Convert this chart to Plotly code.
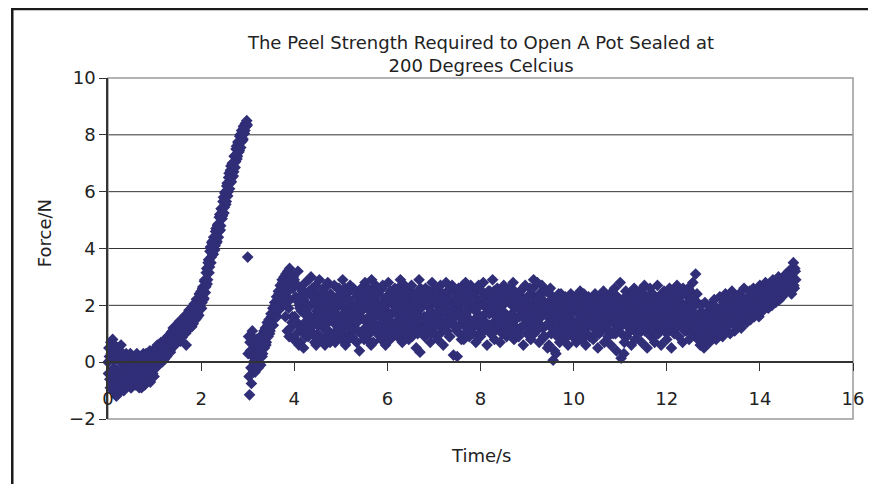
import plotly.graph_objects as go

# ---- data (read off the picture), logged every 0.01 s as two interleaved
# ---- channels: samples at even and at odd hundredths of a second ----
sample_interval_s = 0.01

even_initial = [  # 0.00 - 1.18 s
    0.0, 0.5, -0.6, 0.7, -0.3, 0.8, -1.0, 0.6, 0.1, -1.2,
    0.5, -0.4, 0.2, -0.9, 0.6, -0.7, 0.3, -1.0, 0.1, -0.5,
    0.2, -0.8, -0.1, -0.6, 0.3, -0.9, 0.0, -0.4, 0.2, -0.7,
    -0.2, 0.3, -0.8, 0.1, -0.5, 0.2, -0.9, -0.1, 0.3, -0.6,
    -0.2, 0.3, -0.5, 0.2, -0.3, 0.4, -0.1, 0.3, -0.4, 0.2,
    0.0, 0.5, 0.1, 0.6, -0.1, 0.4, 0.2, 0.7, 0.0, 0.5,
]
odd_initial = [  # 0.01 - 1.19 s
    -0.4, 0.2, -0.9, 0.3, -0.7, 0.1, -0.2, -0.8, 0.4, -0.5,
    -0.3, 0.1, -0.6, 0.0, -1.0, 0.2, -0.5, -0.2, -0.8, 0.3,
    -0.5, 0.1, -0.7, -0.3, -0.9, 0.2, -0.6, 0.1, -0.3, -0.8,
    0.2, -0.6, -0.3, -0.9, 0.0, -0.7, 0.1, -0.5, -0.2, -0.8,
    0.1, -0.6, 0.0, -0.4, 0.3, -0.7, 0.2, -0.2, 0.1, -0.5,
    0.3, -0.2, 0.4, 0.1, 0.5, 0.0, 0.3, 0.6, 0.1, 0.4,
]
even_rise = [  # 1.20 - 2.98 s
    0.6, 0.15, 0.6, 0.2, 0.9, 0.45, 0.75, 0.35, 1.05, 0.6,
    1.2, 0.82, 0.6, 1.18, 0.8, 1.35, 0.78, 1.21, 0.74, 1.42,
    1.05, 1.54, 1.08, 1.47, 0.6, 1.6, 1.14, 1.83, 1.32, 1.66,
    1.25, 1.95, 1.55, 1.95, 1.5, 2.21, 1.7, 2.05, 2.4, 1.85,
    2.5, 2.1, 2.65, 2.25, 2.9, 2.65, 3.3, 2.9, 3.6, 3.35,
    4.05, 3.7, 4.25, 3.8, 4.3, 4.1, 4.7, 4.25, 4.85, 4.6,
    5.2, 4.8, 5.4, 5.15, 5.8, 5.45, 6.0, 5.65, 6.3, 6.0,
    6.65, 6.3, 6.9, 6.5, 7.0, 6.7, 7.25, 7.05, 7.6, 7.25,
    7.7, 7.45, 8.0, 7.75, 8.05, 7.85, 8.25, 8.15, 8.4, 8.5,
]
odd_rise = [  # 1.21 - 2.99 s
    0.1, 0.7, 0.3, 0.85, 0.35, 0.9, 0.4, 1.0, 0.55, 1.1,
    0.68, 1.22, 1.05, 0.68, 1.27, 0.85, 1.43, 0.86, 1.34, 0.87,
    1.5, 0.99, 1.63, 1.02, 1.56, 1.15, 1.74, 1.28, 1.82, 1.26,
    1.9, 1.35, 2.05, 1.5, 2.1, 1.56, 2.2, 1.65, 1.95, 2.4,
    1.9, 2.6, 2.2, 2.85, 2.45, 3.15, 2.75, 3.5, 3.15, 3.9,
    3.5, 4.2, 3.8, 4.4, 3.95, 4.6, 4.2, 4.8, 4.4, 5.1,
    4.65, 5.4, 5.05, 5.65, 5.25, 5.95, 5.55, 6.2, 5.85, 6.5,
    6.1, 6.75, 6.35, 7.0, 6.55, 7.25, 6.85, 7.5, 7.15, 7.75,
    7.4, 7.95, 7.55, 8.15, 7.8, 8.3, 8.05, 8.4, 8.3, 8.35,
]
even_recovery = [  # 3.00 - 3.98 s
    3.7, 0.9, -1.15, 0.4, -0.75, 1.1, 0.0, 0.7, -0.35, 0.5,
    -0.1, 0.8, 0.2, 0.6, -0.1, 0.9, 0.3, 1.0, 0.5, 1.2,
    0.7, 1.4, 0.9, 1.5, 1.1, 1.7, 1.3, 1.9, 1.5, 2.1,
    1.7, 2.3, 1.9, 2.5, 2.0, 2.7, 2.2, 2.9, 2.4, 3.0,
    2.3, 3.1, 2.6, 3.2, 1.9, 3.3, 1.2, 2.8, 1.6, 3.0,
]
odd_recovery = [  # 3.01 - 3.99 s
    0.3, -0.5, 0.7, -0.2, 0.9, 0.2, -0.3, 0.6, 0.1, 0.8,
    0.3, -0.2, 0.4, 0.9, 0.5, 0.2, 0.7, 1.1, 0.8, 0.6,
    1.0, 1.3, 1.2, 1.0, 1.4, 1.6, 1.5, 1.3, 1.8, 2.0,
    1.9, 1.6, 2.2, 2.4, 2.3, 1.9, 2.6, 2.8, 2.1, 2.7,
    1.6, 2.9, 1.1, 2.5, 0.9, 2.2, 3.0, 1.4, 2.6, 0.8,
]
even_plateau = [  # 4.00 - 12.68 s
    2.9, 0.8, 2.2, 1.4, 3.2, 0.6, 1.9, 2.6, 1.1, 2.4,
    0.5, 1.7, 2.8, 1.2, 2.0, 0.9, 2.5, 1.5, 3.0, 1.0,
    2.3, 1.3, 0.7, 2.7, 1.8, 1.0, 2.1, 2.9, 1.4, 0.8,
    1.9, 2.6, 1.2, 0.6, 2.2, 1.6, 2.8, 1.1, 1.8, 2.4,
    0.9, 2.0, 1.4, 2.7, 0.7, 1.7, 2.3, 1.2, 2.6, 1.5,
    2.1, 0.8, 2.9, 1.3, 1.9, 0.6, 2.4, 1.6, 2.2, 1.0,
    2.7, 1.4, 0.9, 2.0, 1.2, 2.5, 1.7, 0.7, 2.3, 1.8,
    0.4, 1.6, 2.6, 1.1, 2.1, 0.8, 2.8, 1.5, 1.9, 1.2,
    2.4, 1.0, 1.8, 2.9, 1.3, 0.7, 2.2, 1.6, 2.6, 1.1,
    1.7, 2.5, 0.9, 2.0, 1.4, 2.7, 1.1, 1.9, 0.6, 2.3,
    1.5, 2.8, 1.2, 0.8, 2.1, 1.7, 2.4, 1.0, 2.6, 1.4,
    2.0, 0.9, 2.3, 1.6, 2.9, 1.2, 0.7, 2.2, 1.8, 2.5,
    1.1, 2.6, 1.5, 0.8, 2.0, 1.3, 2.7, 1.7, 1.0, 2.4,
    1.8, 0.5, 2.2, 1.4, 2.9, 0.35, 1.9, 2.5, 1.2, 2.1,
    0.9, 2.6, 1.6, 2.0, 1.1, 2.4, 0.7, 1.8, 2.8, 1.3,
    2.2, 1.0, 1.7, 2.5, 0.8, 2.0, 1.5, 2.7, 1.2, 1.9,
    0.6, 2.3, 1.4, 2.8, 1.1, 1.8, 2.5, 0.9, 2.1, 1.6,
    2.6, 0.25, 1.9, 1.3, 2.2, 0.2, 1.7, 2.4, 1.0, 2.0,
    1.5, 2.7, 0.8, 2.3, 2.8, 1.2, 1.8, 2.5, 0.9, 2.1,
    1.4, 2.6, 1.0, 1.9, 2.4, 0.7, 2.0, 1.3, 2.7, 1.6,
    0.9, 2.2, 1.5, 2.8, 1.1, 1.7, 2.4, 0.6, 2.0, 1.3,
    2.5, 1.0, 1.8, 2.9, 1.4, 0.8, 2.2, 1.6, 2.6, 1.2,
    1.9, 0.7, 2.4, 1.3, 2.0, 2.7, 1.1, 1.7, 0.9, 2.3,
    1.5, 2.6, 1.0, 2.1, 1.4, 2.8, 0.8, 1.9, 2.3, 1.2,
    2.0, 0.9, 1.6, 2.5, 1.2, 2.2, 0.6, 1.8, 2.7, 1.4,
    1.0, 2.3, 1.7, 2.6, 0.8, 2.0, 1.3, 2.9, 1.5, 2.2,
    1.1, 2.8, 1.6, 0.7, 2.4, 1.9, 2.7, 1.2, 2.0, 0.9,
    1.7, 2.5, 0.5, 2.1, 1.3, 2.6, 1.0, 1.8, 0.07, 2.2,
    1.4, 0.3, 2.0, 1.1, 2.4, 0.7, 1.7, 2.2, 1.2, 1.9,
    0.8, 2.3, 1.5, 2.0, 0.6, 1.8, 1.1, 2.4, 1.4, 0.9,
    2.1, 1.3, 2.3, 0.7, 1.7, 2.0, 1.0, 2.5, 1.5, 0.8,
    1.9, 2.4, 1.2, 0.6, 2.1, 1.6, 2.3, 0.9, 1.8, 1.3,
    2.2, 0.8, 1.5, 2.4, 1.0, 1.9, 0.5, 2.1, 1.4, 2.3,
    1.1, 1.8, 2.5, 0.7, 2.0, 1.3, 2.2, 0.9, 1.6, 2.4,
    0.6, 2.1, 1.4, 1.9, 2.6, 1.0, 0.4, 2.3, 1.7, 1.2,
    2.8, 0.14, 1.5, 2.2, 0.3, 1.8, 2.5, 0.9, 2.0, 1.3,
    2.4, 1.1, 0.6, 2.0, 1.6, 2.6, 0.8, 1.9, 1.3, 2.3,
    1.0, 2.5, 1.7, 0.7, 2.2, 1.4, 2.7, 1.1, 1.8, 0.5,
    2.1, 1.5, 2.6, 0.9, 1.9, 2.4, 1.2, 0.7, 2.2, 1.6,
    2.7, 1.0, 1.8, 2.3, 0.6, 2.0, 1.4, 2.5, 1.1, 1.7,
    0.8, 2.2, 1.5, 2.6, 1.2, 0.5, 1.9, 2.4, 1.0, 2.1,
    1.6, 2.7, 1.3, 0.9, 2.3, 1.8, 2.5, 0.7, 2.0, 1.4,
    2.4, 1.1, 1.9, 2.6, 0.8, 1.6, 2.2, 1.3, 2.8, 1.0,
    1.7, 3.1, 1.4, 2.1, 0.9,
]
odd_plateau = [  # 4.01 - 12.69 s
    1.6, 2.3, 1.0, 2.7, 1.3, 2.0, 0.7, 1.8, 2.5, 1.2,
    2.2, 1.4, 0.9, 2.4, 1.7, 2.9, 1.1, 2.0, 1.5, 2.6,
    1.0, 2.1, 1.6, 0.6, 2.4, 1.3, 1.9, 0.9, 2.3, 1.7,
    2.5, 1.2, 2.0, 1.5, 0.9, 2.7, 1.4, 2.2, 0.7, 1.6,
    2.3, 1.6, 0.8, 2.1, 1.9, 1.1, 2.6, 1.4, 2.0, 0.9,
    1.5, 2.4, 1.7, 1.0, 2.6, 1.3, 1.8, 2.2, 0.8, 2.5,
    1.2, 2.0, 1.6, 2.6, 0.8, 1.9, 2.3, 1.4, 1.1, 2.1,
    2.2, 1.0, 1.8, 2.4, 1.5, 2.0, 1.2, 2.3, 0.8, 2.6,
    1.6, 2.1, 0.6, 1.4, 2.5, 1.9, 1.1, 2.7, 1.3, 2.0,
    2.4, 1.3, 1.9, 0.8, 2.6, 1.5, 2.2, 1.0, 1.7, 1.3,
    2.1, 0.9, 1.7, 2.5, 1.4, 0.9, 2.0, 1.8, 1.2, 2.2,
    1.4, 2.6, 1.1, 2.0, 1.7, 2.4, 1.5, 1.0, 2.7, 1.3,
    2.0, 1.6, 2.3, 1.2, 2.5, 1.9, 0.9, 2.2, 1.5, 1.8,
    1.3, 2.4, 1.0, 2.0, 1.6, 2.6, 1.2, 1.0, 2.3, 1.6,
    2.3, 1.4, 2.0, 1.2, 2.5, 1.6, 2.2, 1.0, 1.5, 2.1,
    1.6, 2.6, 1.3, 2.0, 1.5, 2.3, 1.0, 2.1, 1.7, 2.4,
    2.0, 1.2, 2.3, 1.7, 2.5, 1.4, 0.9, 2.2, 1.6, 2.7,
    1.3, 2.1, 1.6, 2.4, 1.1, 2.0, 2.6, 1.3, 1.8, 0.8,
    2.2, 1.4, 2.6, 1.0, 1.7, 2.0, 1.2, 2.3, 1.5, 2.7,
    2.0, 1.2, 2.4, 1.5, 1.8, 2.6, 1.3, 2.2, 1.0, 2.0,
    1.6, 2.5, 1.1, 2.0, 2.3, 1.4, 1.9, 1.2, 2.5, 1.7,
    1.8, 2.2, 1.3, 2.0, 2.5, 1.1, 1.7, 2.3, 1.4, 2.0,
    1.4, 2.3, 1.8, 1.0, 2.6, 1.5, 2.1, 1.3, 2.4, 1.6,
    2.1, 1.3, 2.4, 1.7, 2.0, 1.1, 2.5, 1.5, 1.0, 2.2,
    1.6, 2.4, 1.2, 2.0, 1.8, 2.6, 1.3, 2.2, 1.5, 1.9,
    2.3, 1.5, 2.0, 1.2, 2.4, 1.7, 2.6, 1.0, 1.8, 1.4,
    2.2, 1.4, 2.0, 2.4, 1.3, 1.6, 2.2, 0.9, 1.7, 2.5,
    1.3, 2.0, 1.6, 0.6, 2.4, 1.9, 1.2, 2.3, 1.5, 0.4,
    2.1, 1.6, 0.9, 2.3, 1.4, 1.8, 2.4, 1.1, 1.6, 2.0,
    1.4, 1.9, 1.2, 2.2, 1.6, 1.0, 2.1, 1.5, 1.8, 2.3,
    1.2, 1.8, 2.0, 1.4, 2.2, 1.1, 1.7, 1.3, 2.1, 1.6,
    1.4, 2.0, 1.6, 2.3, 1.0, 1.8, 1.3, 2.2, 1.5, 2.0,
    1.7, 1.2, 2.3, 1.6, 1.9, 1.3, 2.2, 1.0, 1.8, 1.5,
    2.0, 1.4, 1.6, 2.2, 1.2, 1.8, 1.5, 2.3, 1.1, 1.9,
    1.5, 2.2, 1.0, 1.7, 2.0, 1.4, 2.3, 1.2, 1.6, 2.0,
    1.9, 1.0, 2.2, 1.6, 0.7, 2.0, 1.3, 2.3, 1.5, 1.7,
    1.8, 2.1, 1.4, 2.4, 1.2, 1.7, 2.2, 1.5, 1.0, 2.0,
    1.6, 2.3, 1.3, 2.0, 1.5, 2.4, 1.1, 1.8, 2.2, 1.4,
    1.8, 1.2, 2.2, 1.6, 2.4, 1.3, 1.9, 2.1, 1.5, 1.0,
    1.5, 2.3, 1.7, 1.2, 2.4, 1.5, 2.0, 1.1, 2.2, 1.8,
    1.4, 2.5, 1.1, 1.9, 2.1, 1.5, 2.3, 1.3, 1.7, 2.4,
    1.2, 2.0, 1.8, 2.4, 1.5, 2.1, 1.3, 2.6, 1.7, 1.1,
    2.0, 1.6, 2.3, 1.2, 1.9, 2.5, 1.4, 2.0, 1.6, 2.2,
    2.0, 1.2, 2.4, 0.8, 1.7,
]
even_final = [  # 12.70 - 14.76 s
    1.3, 0.6, 2.0, 1.0, 1.7, 0.5, 2.1, 1.2, 0.8, 1.8,
    1.4, 0.7, 2.0, 1.1, 1.6, 0.9, 2.2, 1.3, 0.8, 1.9,
    1.5, 1.0, 2.3, 1.2, 1.8, 0.9, 2.1, 1.4, 2.4, 1.1,
    1.7, 1.3, 2.2, 1.0, 1.9, 2.5, 1.4, 1.8, 1.1, 2.3,
    1.6, 2.0, 1.3, 2.4, 1.8, 1.2, 2.2, 1.5, 2.6, 1.7,
    2.0, 1.4, 2.3, 1.8, 2.5, 1.5, 2.1, 1.9, 2.6, 1.6,
    2.2, 1.7, 2.5, 2.0, 1.6, 2.7, 1.9, 2.3, 1.8, 2.6,
    2.1, 2.8, 2.0, 2.4, 1.9, 2.7, 2.2, 2.5, 2.0, 2.9,
    2.3, 2.6, 2.1, 2.8, 2.4, 3.0, 2.2, 2.7, 2.5, 2.3,
    2.9, 2.4, 2.7, 3.1, 2.5, 2.8, 3.2, 2.6, 3.0, 2.4,
    2.8, 3.5, 2.6, 3.2,
]
odd_final = [  # 12.71 - 14.77 s
    0.9, 1.6, 1.1, 1.5, 0.8, 1.4, 1.0, 1.7, 1.5, 1.1,
    1.0, 1.6, 1.3, 1.8, 1.2, 1.6, 1.1, 1.8, 1.5, 1.2,
    1.8, 1.4, 1.7, 1.6, 1.3, 2.0, 1.7, 1.2, 1.9, 1.6,
    1.5, 2.0, 1.6, 1.8, 1.4, 1.7, 2.1, 1.5, 2.0, 1.7,
    2.0, 1.5, 1.9, 1.7, 2.1, 1.6, 1.9, 2.2, 1.8, 2.1,
    1.7, 2.2, 1.9, 2.1, 1.7, 2.3, 2.0, 1.8, 2.2, 2.0,
    2.0, 2.3, 1.9, 2.2, 2.4, 2.0, 2.3, 2.1, 2.4, 2.2,
    2.4, 2.2, 2.5, 2.3, 2.6, 2.2, 2.5, 2.3, 2.7, 2.5,
    2.6, 2.4, 2.7, 2.5, 2.8, 2.6, 2.5, 2.9, 2.6, 2.8,
    2.6, 2.9, 2.8, 2.6, 3.0, 2.7, 2.9, 2.8, 2.7, 3.3,
    3.0, 2.7, 3.3, 2.9,
]

title_text = "The Peel Strength Required to Open A Pot Sealed at<br>200 Degrees Celcius"
x_title = "Time/s"
y_title = "Force/N"
x_ticks = [0, 2, 4, 6, 8, 10, 12, 14, 16]
y_ticks = [-2, 0, 2, 4, 6, 8, 10]

even_all = even_initial + even_rise + even_recovery + even_plateau + even_final
odd_all = odd_initial + odd_rise + odd_recovery + odd_plateau + odd_final
force_n = [v for pair in zip(even_all, odd_all) for v in pair]
time_s = [round(i * sample_interval_s, 2) for i in range(len(force_n))]

FONT = "DejaVu Sans"
TXT = "#222222"
W, H = 868, 476                 # page body adds an 8 px margin
L, T, R, B = 100, 70, 21, 65

fig = go.Figure()
fig.add_trace(go.Scatter(
    x=time_s, y=force_n, mode="markers",
    marker=dict(symbol="diamond", size=9, color="#312e78", line=dict(width=0)),
    cliponaxis=False, showlegend=False,
))

grid_shapes = [
    dict(type="line", xref="paper", yref="y", x0=0, x1=1, y0=v, y1=v,
         line=dict(color="#333333", width=1), layer="below")
    for v in y_ticks[2:-1]
]

fig.update_layout(
    width=W, height=H,
    margin=dict(l=L, r=R, t=T, b=B),
    paper_bgcolor="white", plot_bgcolor="white",
    font=dict(family=FONT, size=17, color=TXT),
    title=dict(text=title_text, x=0.545, xanchor="center", y=0.9139, yanchor="middle",
               font=dict(family=FONT, size=18, color=TXT)),
    xaxis=dict(range=[0, 16], tickvals=x_ticks, ticks="outside", ticklen=8,
               tickcolor="#333", showline=True, linecolor="#333", linewidth=1.5,
               showgrid=False, zeroline=False, anchor="free", position=2 / 12,
               ticklabelstandoff=12,
               tickfont=dict(family=FONT, size=18, color=TXT)),
    yaxis=dict(range=[-2, 10], tickvals=y_ticks, ticks="outside", ticklen=7,
               tickcolor="#333", showline=True, linecolor="#333", linewidth=1.5,
               showgrid=False, zeroline=False,
               tickfont=dict(family=FONT, size=18, color=TXT)),
    shapes=grid_shapes + [
        dict(type="rect", xref="paper", yref="paper", x0=0, x1=1, y0=0, y1=1,
             line=dict(color="#9a9a9a", width=1.5), layer="below"),
        dict(type="rect", xref="paper", yref="paper", x0=-0.1285, x1=1.1,
             y0=-0.3, y1=1.2023, line=dict(color="#1a1a1a", width=2.5)),
    ],
    annotations=[
        dict(text=x_title, xref="paper", yref="paper", x=0.5007, y=-0.1056,
             xanchor="center", yanchor="middle", showarrow=False,
             font=dict(family=FONT, size=18, color=TXT)),
        dict(text=y_title, xref="paper", yref="paper", x=-0.0843, y=0.5455,
             xanchor="center", yanchor="middle", showarrow=False, textangle=-90,
             font=dict(family=FONT, size=18, color=TXT)),
    ],
)

fig.write_html("out.html")
